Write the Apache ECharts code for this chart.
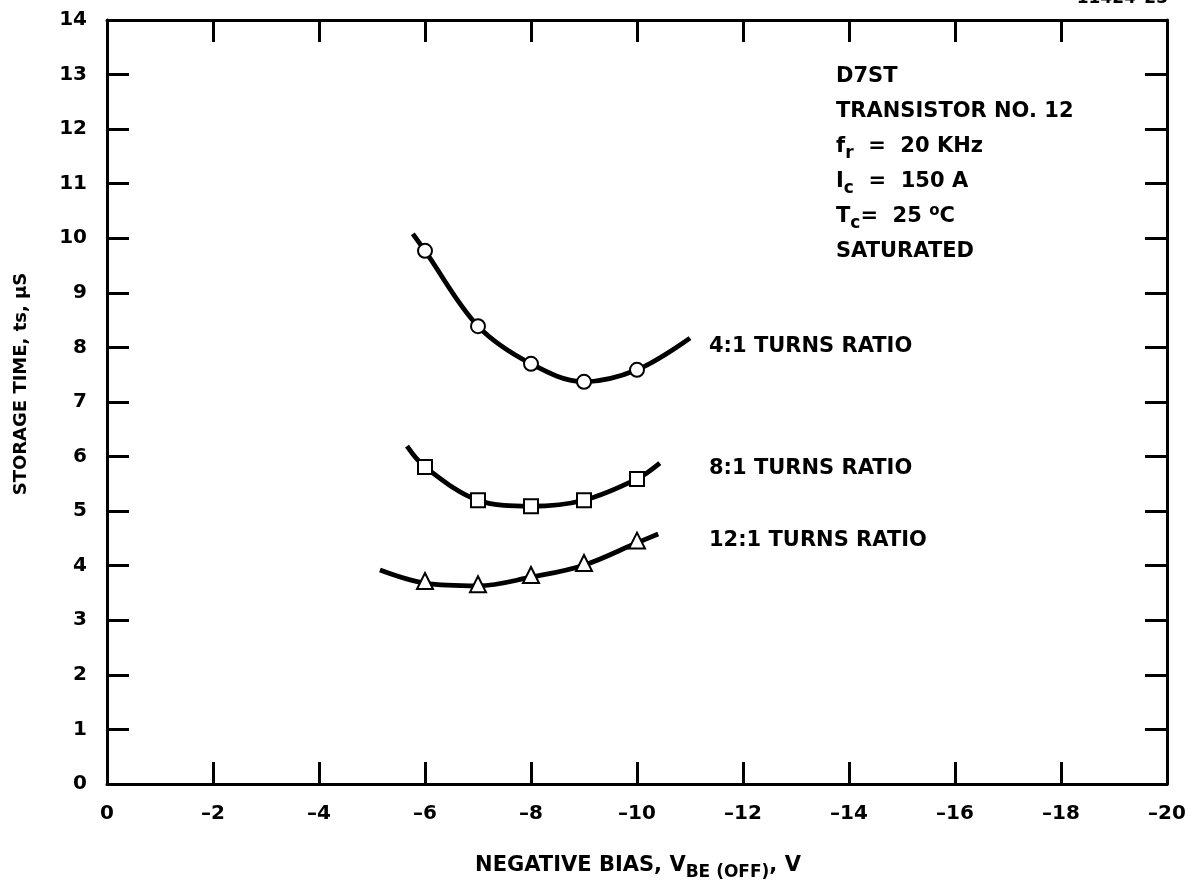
<!DOCTYPE html>
<html><head><meta charset="utf-8">
<script src="https://cdn.jsdelivr.net/npm/echarts@6/dist/echarts.min.js"></script>
<style>html,body{margin:0;padding:0;background:#fff}#c{width:1197px;height:894px}</style>
</head><body><div id="c"></div>
<script>
// Curve traces (x = V_BE(OFF), y = storage time µs)
const curve4 = [[-5.77,10.08],[-6,9.77],[-7,8.39],[-8,7.70],[-9,7.37],[-10,7.59],[-11,8.17]];
const curve8 = [[-5.66,6.19],[-6,5.81],[-7,5.20],[-8,5.09],[-9,5.20],[-10,5.59],[-10.43,5.88]];
const curve12 = [[-5.15,3.92],[-6,3.68],[-7,3.63],[-8,3.79],[-9,4.01],[-10,4.42],[-10.4,4.58]];
// Measured points
const pts4 = [[-6,9.77],[-7,8.39],[-8,7.70],[-9,7.37],[-10,7.59]];
const pts8 = [[-6,5.81],[-7,5.20],[-8,5.09],[-9,5.20],[-10,5.59]];
const pts12 = [[-6,3.72],[-7,3.66],[-8,3.83],[-9,4.05],[-10,4.46]];
const seriesNames = ['4:1 TURNS RATIO','8:1 TURNS RATIO','12:1 TURNS RATIO'];

const F = '"DejaVu Sans", Verdana, sans-serif';
const chart = echarts.init(document.getElementById('c'));
const lineS = (d) => ({type:'line', data:d, smooth:0.35, showSymbol:false, symbol:'none',
  lineStyle:{color:'#000', width:4.8}, z:2, silent:true});
const ptS = (d, sym, size) => ({type:'scatter', data:d, symbol:sym, symbolSize:size,
  itemStyle:{color:'#fff', opacity:1, borderColor:'#000', borderWidth:2}, z:3});
const tickFmt = v => v === 0 ? '0' : ('\u2013' + Math.abs(v));
const axLine = {show:true, onZero:false, lineStyle:{color:'#000', width:3}};
const axTick = {inside:true, length:22, lineStyle:{color:'#000', width:3}};
chart.setOption({
  animation:false,
  grid:{left:107, right:30, top:20, bottom:110},
  xAxis:[
    {type:'value', min:-20, max:0, interval:2, inverse:true, position:'bottom',
     axisLine:axLine, axisTick:axTick,
     axisLabel:{color:'#000', fontFamily:F, fontWeight:'bold', fontSize:20, margin:20, formatter:tickFmt},
     splitLine:{show:false}},
    {type:'value', min:-20, max:0, interval:2, inverse:true, position:'top',
     axisLine:axLine, axisTick:axTick, axisLabel:{show:false}, splitLine:{show:false}}
  ],
  yAxis:[
    {type:'value', min:0, max:14, interval:1, position:'left',
     axisLine:axLine, axisTick:axTick,
     axisLabel:{color:'#000', fontFamily:F, fontWeight:'bold', fontSize:20, margin:20},
     splitLine:{show:false}},
    {type:'value', min:0, max:14, interval:1, position:'right',
     axisLine:axLine, axisTick:axTick, axisLabel:{show:false}, splitLine:{show:false}}
  ],
  series:[
    lineS(curve4), lineS(curve8), lineS(curve12),
    ptS(pts4,'circle',14), ptS(pts8,'rect',14), ptS(pts12,'triangle',16)
  ],
  graphic:[
    {type:'text', right:29, top:-10, style:{text:'11424\u201323', font:'bold 17px '+F, fill:'#000'}},
    {type:'text', x:21, y:384, rotation:Math.PI/2,
     style:{text:'STORAGE TIME, ts, \u03bcS', font:'bold 18px '+F, fill:'#000', align:'center', verticalAlign:'middle'}},
    {type:'text', x:638, y:866,
     style:{text:'NEGATIVE BIAS, V{s|BE (OFF)}, V', font:'bold 21px '+F, fill:'#000', align:'center', verticalAlign:'middle',
       rich:{s:{font:'bold 17px '+F, fill:'#000', padding:[14,0,0,0]}}}},
    {type:'text', x:836, y:59, style:{font:'bold 21px '+F, fill:'#000', lineHeight:35,
      text:'D7ST\nTRANSISTOR NO. 12\nf{s|r}  =  20 KHz\nI{s|c}  =  150 A\nT{s|c}=  25 {u|o}C\nSATURATED',
      rich:{s:{font:'bold 17px '+F, fill:'#000', padding:[14,0,0,0]}, u:{font:'bold 15px '+F, fill:'#000', padding:[0,0,10,0]}}}},
    {type:'text', x:709, y:347, style:{text:seriesNames[0], font:'bold 21px '+F, fill:'#000', verticalAlign:'middle'}},
    {type:'text', x:709, y:469, style:{text:seriesNames[1], font:'bold 21px '+F, fill:'#000', verticalAlign:'middle'}},
    {type:'text', x:709, y:541, style:{text:seriesNames[2], font:'bold 21px '+F, fill:'#000', verticalAlign:'middle'}}
  ]
});
</script></body></html>
